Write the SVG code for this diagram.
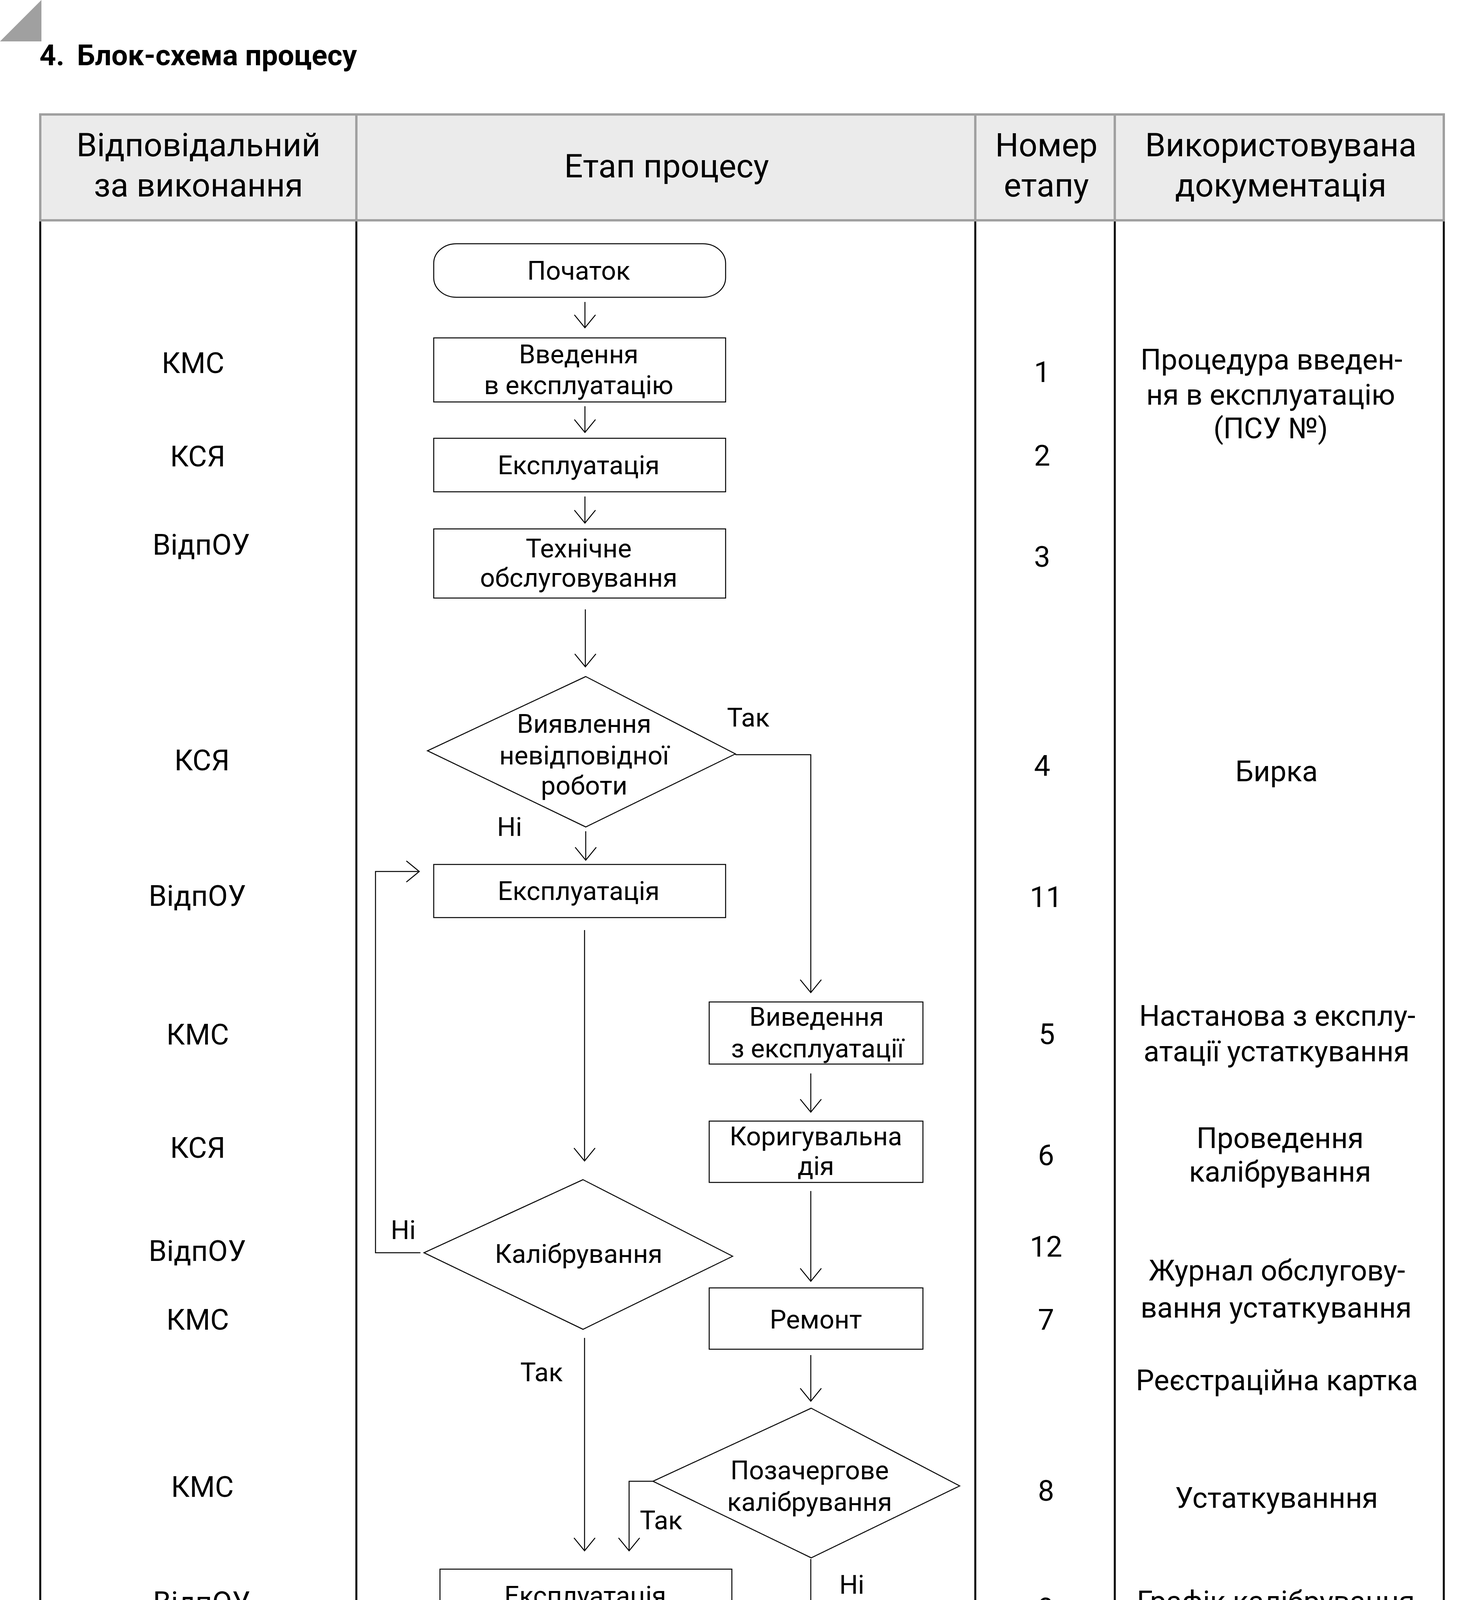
<svg xmlns="http://www.w3.org/2000/svg" width="3780" height="4743" viewBox="0 0 3780 4743">
<style>
text{font-family:Roboto,"Liberation Sans",sans-serif;fill:#000;text-anchor:middle}
.title{font-size:74px;font-weight:bold;text-anchor:start}
.hd{font-size:84px}
.tb{font-size:74px}
.fc{font-size:67px}
.node{fill:#fff;stroke:#000;stroke-width:2.5}
.con{fill:none;stroke:#000;stroke-width:2.5}
.hline{stroke:#a0a0a0;stroke-width:6;fill:none}
.bline{stroke:#000;stroke-width:5;fill:none}
</style>
<defs>
<marker id="arr" markerUnits="userSpaceOnUse" markerWidth="45" markerHeight="62" viewBox="-40 -31 45 62" refX="0" refY="0" orient="auto">
<path d="M-33,-27 L0,0 L-33,27" fill="none" stroke="#000" stroke-width="2.5"/>
</marker>
</defs>
<rect width="3780" height="4743" fill="#fff"/>
<polygon points="0,106 106,0 106,106" fill="#a0a0a0"/>
<text class="title" x="101" y="167">4.</text>
<text class="title" x="197" y="167">Блок-схема процесу</text>

<g id="table">
<rect x="103" y="293" width="3592" height="271" fill="#ebebeb"/>
<line class="bline" x1="103" y1="564" x2="103" y2="4643"/>
<line class="bline" x1="912" y1="564" x2="912" y2="4643"/>
<line class="bline" x1="2496" y1="564" x2="2496" y2="4643"/>
<line class="bline" x1="2853" y1="564" x2="2853" y2="4643"/>
<line class="bline" x1="3695" y1="564" x2="3695" y2="4643"/>
<line class="bline" x1="100.5" y1="4643" x2="3697.5" y2="4643"/>
<rect class="hline" x="103" y="293" width="3592" height="271"/>
<line class="hline" x1="912" y1="293" x2="912" y2="564"/>
<line class="hline" x1="2496" y1="293" x2="2496" y2="564"/>
<line class="hline" x1="2853" y1="293" x2="2853" y2="564"/>
<text class="hd" x="508" y="400">Відповідальний</text>
<text class="hd" x="508" y="503">за виконання</text>
<text class="hd" x="1706" y="454">Етап процесу</text>
<text class="hd" x="2678" y="400">Номер</text>
<text class="hd" x="2678" y="503">етапу</text>
<text class="hd" x="3278" y="400">Використовувана</text>
<text class="hd" x="3278" y="503">документація</text>
</g>

<g id="responsible">
<text class="tb" x="494" y="955">КМС</text>
<text class="tb" x="506" y="1194">КСЯ</text>
<text class="tb" x="515" y="1420">ВідпОУ</text>
<text class="tb" x="517" y="1972">КСЯ</text>
<text class="tb" x="505" y="2319">ВідпОУ</text>
<text class="tb" x="506" y="2674">КМС</text>
<text class="tb" x="506" y="2964">КСЯ</text>
<text class="tb" x="505" y="3228">ВідпОУ</text>
<text class="tb" x="506" y="3404">КМС</text>
<text class="tb" x="518" y="3832">КМС</text>
<text class="tb" x="516" y="4127">ВідпОУ</text>
<text class="tb" x="506" y="4555">КМС</text>
</g>

<g id="numbers">
<text class="tb" x="2667" y="978">1</text>
<text class="tb" x="2667" y="1192">2</text>
<text class="tb" x="2667" y="1451">3</text>
<text class="tb" x="2667" y="1986">4</text>
<text class="tb" x="2677" y="2322">11</text>
<text class="tb" x="2679" y="2673">5</text>
<text class="tb" x="2677" y="2983">6</text>
<text class="tb" x="2677" y="3217">12</text>
<text class="tb" x="2677" y="3404">7</text>
<text class="tb" x="2677" y="3842">8</text>
<text class="tb" x="2677" y="4143">9</text>
<text class="tb" x="2673" y="4368">10</text>
</g>

<g id="docs">
<text class="tb" x="3254" y="946">Процедура введен-</text>
<text class="tb" x="3252" y="1036">ня в експлуатацію</text>
<text class="tb" x="3252" y="1122">(ПСУ №)</text>
<text class="tb" x="3267" y="2000">Бирка</text>
<text class="tb" x="3269" y="2626">Настанова з експлу-</text>
<text class="tb" x="3267" y="2717">атації устаткування</text>
<text class="tb" x="3276" y="2939">Проведення</text>
<text class="tb" x="3276" y="3025">калібрування</text>
<text class="tb" x="3268" y="3278">Журнал обслугову-</text>
<text class="tb" x="3266" y="3373">вання устаткування</text>
<text class="tb" x="3268" y="3559">Реєстраційна картка</text>
<text class="tb" x="3267" y="3860">Устаткуванння</text>
<text class="tb" x="3265" y="4125">Графік калібрування</text>
<text class="tb" x="3282" y="4482">Інструкція з експлуа-</text>
<text class="tb" x="3290" y="4570">тації устаткування</text>
</g>

<g id="connectors">
<line class="con" marker-end="url(#arr)" x1="1497" y1="773" x2="1497" y2="839"/>
<line class="con" marker-end="url(#arr)" x1="1497" y1="1040" x2="1497" y2="1107"/>
<line class="con" marker-end="url(#arr)" x1="1497" y1="1271" x2="1497" y2="1339"/>
<line class="con" marker-end="url(#arr)" x1="1498" y1="1560" x2="1498" y2="1707"/>
<polyline class="con" marker-end="url(#arr)" points="1882,1932 2075,1932 2075,2541"/>
<line class="con" marker-end="url(#arr)" x1="1499" y1="2128" x2="1499" y2="2202"/>
<line class="con" marker-end="url(#arr)" x1="1496" y1="2381" x2="1496" y2="2972"/>
<polyline class="con" marker-end="url(#arr)" points="1076,3207 961,3207 961,2231 1073,2231"/>
<line class="con" marker-end="url(#arr)" x1="1496" y1="3425" x2="1496" y2="3970"/>
<line class="con" marker-end="url(#arr)" x1="1496" y1="4195" x2="1496" y2="4400"/>
<line class="con" marker-end="url(#arr)" x1="2075" y1="2748" x2="2075" y2="2847"/>
<line class="con" marker-end="url(#arr)" x1="2075" y1="3049" x2="2075" y2="3280"/>
<line class="con" marker-end="url(#arr)" x1="2075" y1="3469" x2="2075" y2="3587"/>
<polyline class="con" marker-end="url(#arr)" points="1671,3792 1610,3792 1610,3970"/>
<line class="con" marker-end="url(#arr)" x1="2075" y1="3991" x2="2075" y2="4237"/>
<text class="fc" x="1915" y="1860">Так</text>
<text class="fc" x="1304" y="2140">Ні</text>
<text class="fc" x="1032" y="3172">Ні</text>
<text class="fc" x="1386" y="3536">Так</text>
<text class="fc" x="1692" y="3915">Так</text>
<text class="fc" x="2180" y="4080">Ні</text>
</g>

<g id="n-start">
<rect class="node" x="1110" y="624" width="747" height="137" rx="58" ry="50"/>
<text class="fc" x="1481" y="716">Початок</text>
</g>
<g id="n1">
<rect class="node" x="1110" y="865" width="747" height="164"/>
<text class="fc" x="1481" y="930">Введення</text>
<text class="fc" x="1481" y="1009">в експлуатацію</text>
</g>
<g id="n2">
<rect class="node" x="1110" y="1122" width="747" height="137"/>
<text class="fc" x="1481" y="1214">Експлуатація</text>
</g>
<g id="n3">
<rect class="node" x="1110" y="1354" width="747" height="177"/>
<text class="fc" x="1481" y="1427">Технічне</text>
<text class="fc" x="1481" y="1502">обслуговування</text>
</g>
<g id="n4">
<polygon class="node" points="1499,1732 1882,1930 1499,2117 1094,1922"/>
<text class="fc" x="1495" y="1876">Виявлення</text>
<text class="fc" x="1495" y="1957">невідповідної</text>
<text class="fc" x="1495" y="2034">роботи</text>
</g>
<g id="n11">
<rect class="node" x="1110" y="2213" width="747" height="136"/>
<text class="fc" x="1481" y="2304">Експлуатація</text>
</g>
<g id="n5">
<rect class="node" x="1815" y="2565" width="547" height="159"/>
<text class="fc" x="2090" y="2626">Виведення</text>
<text class="fc" x="2092" y="2707">з експлуатації</text>
</g>
<g id="n6">
<rect class="node" x="1815" y="2870" width="547" height="157"/>
<text class="fc" x="2088" y="2932">Коригувальна</text>
<text class="fc" x="2088" y="3008">дія</text>
</g>
<g id="n12">
<polygon class="node" points="1492,3020 1875,3216 1492,3403 1085,3207"/>
<text class="fc" x="1481" y="3233">Калібрування</text>
</g>
<g id="n7">
<rect class="node" x="1815" y="3297" width="547" height="157"/>
<text class="fc" x="2088" y="3401">Ремонт</text>
</g>
<g id="n8">
<polygon class="node" points="2076,3605 2456,3804 2076,3988 1671,3792"/>
<text class="fc" x="2072" y="3787">Позачергове</text>
<text class="fc" x="2072" y="3868">калібрування</text>
</g>
<g id="n9">
<rect class="node" x="1126" y="4017" width="747" height="134"/>
<text class="fc" x="1498" y="4108">Експлуатація</text>
</g>
<g id="n10">
<rect class="node" x="1708" y="4258" width="746" height="137" rx="20" ry="20"/>
<text class="fc" x="2078" y="4349">Списання</text>
</g>
<g id="n-end">
<rect class="node" x="1110" y="4447" width="747" height="134" rx="58" ry="50"/>
<text class="fc" x="1481" y="4541">Кінець</text>
</g>
</svg>
